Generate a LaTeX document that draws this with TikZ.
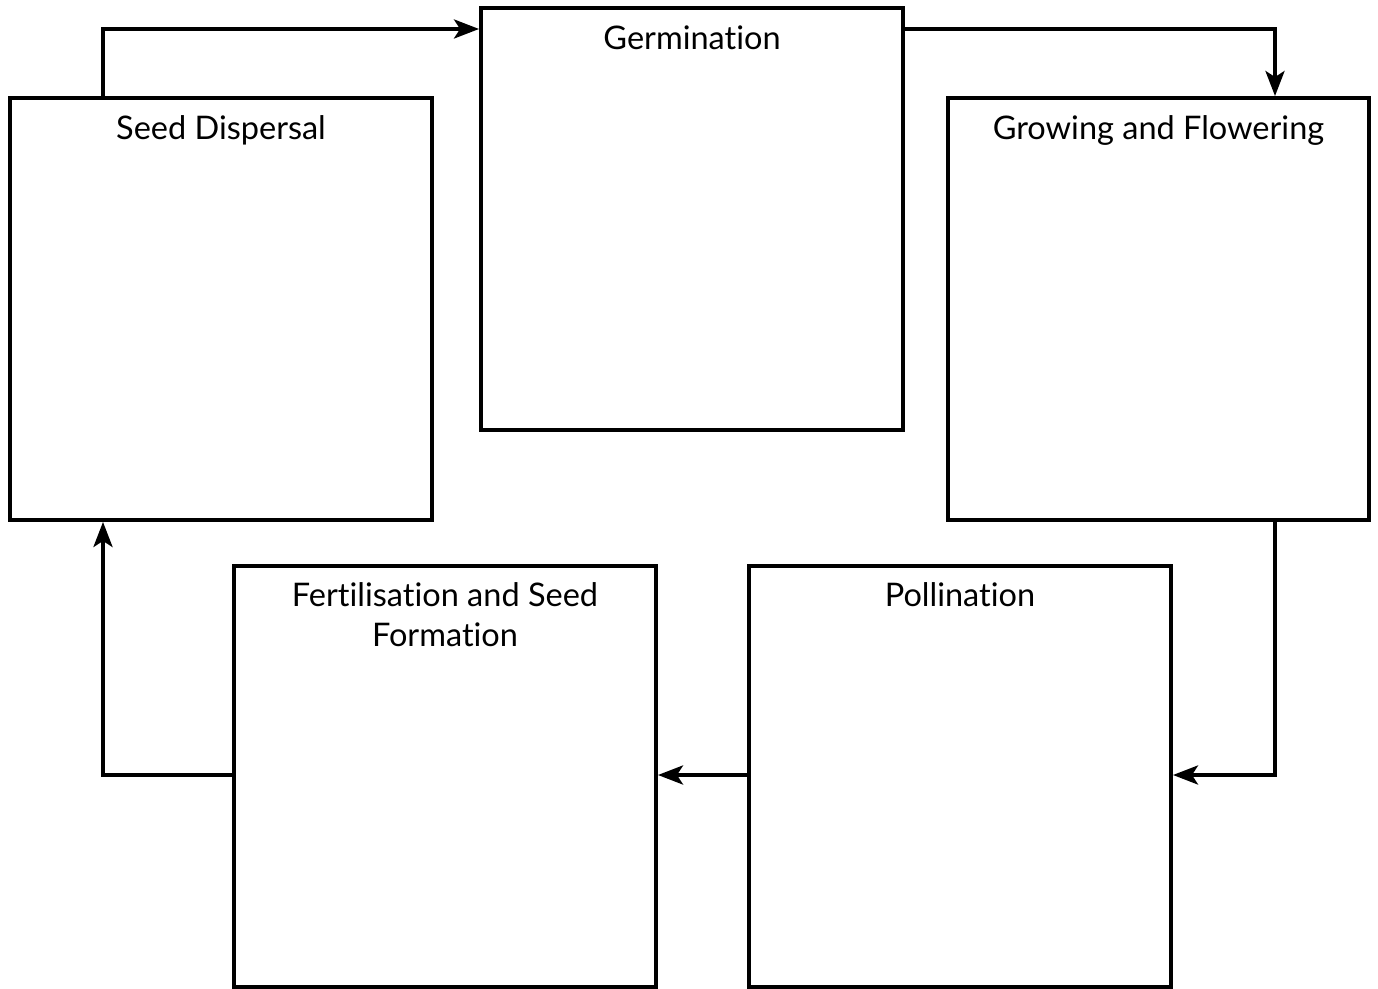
\documentclass[tikz,border=0pt]{standalone}
\usepackage{fontspec}
\setmainfont{Lato}[Ligatures={NoCommon,NoContextual}]
\usetikzlibrary{arrows.meta, positioning}

\begin{document}
\begin{tikzpicture}[x=0.02cm, y=-0.02cm,
 stage node/.style={draw, line width=0.08cm, minimum width=8.44cm, minimum height=8.44cm, inner sep=0},
 title node/.style={anchor=north, inner sep=0, align=center, font=\fontsize{18.5}{22.7}\selectfont},
 flow/.style={line width=0.075cm, -{Stealth[length=0.5cm, width=0.38cm, inset=0.12cm]}}]

  \useasboundingbox (0,0) rectangle (1378,989);

  \node[stage node] (seed) at (221,309) {};
  \node[stage node] (germ) at (692,219) {};
  \node[stage node] (grow) at (1158.5,309) {};
  \node[stage node] (fert) at (445,776.5) {};
  \node[stage node] (poll) at (960,776.5) {};

  \node[title node] (seedt) [below=0.38cm of seed.north] {Seed Dispersal};
  \node[title node] (germt) [below=0.38cm of germ.north] {Germination};
  \node[title node] (growt) [below=0.38cm of grow.north] {Growing and Flowering};
  \node[title node] (fertt) [below=0.38cm of fert.north] {Fertilisation and Seed\\Formation};
  \node[title node] (pollt) [below=0.38cm of poll.north] {Pollination};

  % corners of the loop
  \coordinate (top) at (103,29);
  \coordinate (low) at (1275,775);

  \draw[flow] (seed.north -| top) |- (germ.west |- top);
  \draw[flow] (germ.east |- top) -| (grow.north -| low);
  \draw[flow] (grow.south -| low) |- (poll.east |- low);
  \draw[flow] (poll.west |- low) -- (fert.east |- low);
  \draw[flow] (fert.west |- low) -| (seed.south -| top);
\end{tikzpicture}
\end{document}
